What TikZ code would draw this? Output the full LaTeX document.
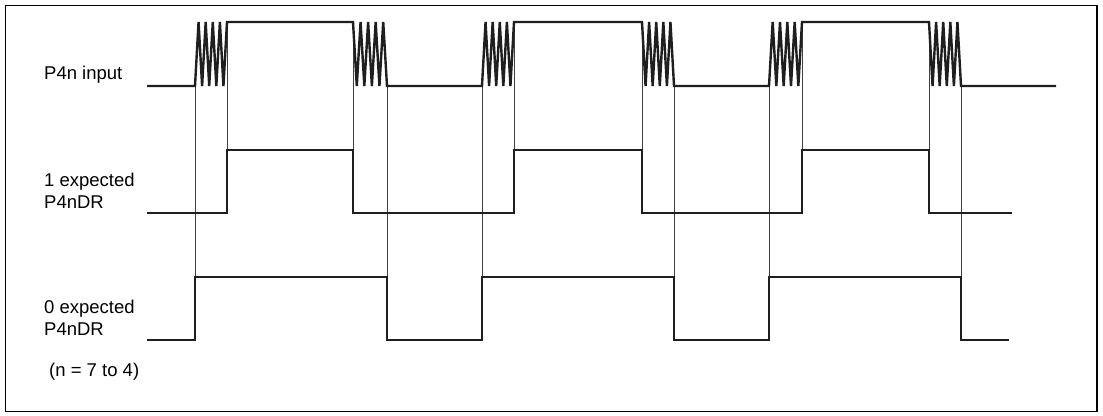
\documentclass[tikz,border=0pt]{standalone}
\usepackage{fontspec}
\setmainfont{Liberation Sans}
\begin{document}
\begin{tikzpicture}[x=1pt,y=-1pt,
  wave/.style={line width=2.4pt,line join=miter,miter limit=2,black!88},
  guide/.style={line width=0.9pt,black!75},
  frame/.style={line width=1.8pt},
  lbl/.style={anchor=west,align=left,inner sep=0pt,font=\fontsize{18.5}{22.5}\selectfont}]
\useasboundingbox (0,0) rectangle (1103,415);
\draw[frame] (5.5,5.5) rectangle (1097,411.5);
% helpers
\newcommand\bup[2]{\foreach \i in {1,...,9}{ -- ({#1+(#2-#1)*\i/9},{86-64*mod(\i,2)}) }}
\newcommand\bdn[2]{\foreach \i in {1,...,9}{ -- ({#1+(#2-#1)*\i/9},{22+64*mod(\i,2)}) }}
% labels
\node[lbl] (Lin) at (44,75) {P4n input};
\node[lbl] (L1) at (44,191) {1 expected\\P4nDR};
\node[lbl] (L0) at (44,318) {0 expected\\P4nDR};
\node[lbl] (Ln) at (49,372) {(n = 7 to 4)};
% guide lines
\foreach \x in {227,353,514,642,802,929}{\draw[guide] (\x,22) -- (\x,150);}
\foreach \x in {195,387,482,674,769,961}{\draw[guide] (\x,86) -- (\x,277);}
% input waveform
\draw[wave] (147,86) -- (195,86) \bup{195}{227} -- (353,22) \bdn{353}{387}
  -- (482,86) \bup{482}{514} -- (642,22) \bdn{642}{674}
  -- (769,86) \bup{769}{802} -- (929,22) \bdn{929}{961} -- (1056,86);
% 1 expected
\draw[wave] (147,213) -- (227,213) -- (227,150) -- (353,150) -- (353,213)
  -- (514,213) -- (514,150) -- (642,150) -- (642,213)
  -- (802,213) -- (802,150) -- (929,150) -- (929,213) -- (1012,213);
% 0 expected
\draw[wave] (147,340) -- (195,340) -- (195,277) -- (387,277) -- (387,340)
  -- (482,340) -- (482,277) -- (674,277) -- (674,340)
  -- (769,340) -- (769,277) -- (961,277) -- (961,340) -- (1009,340);
\end{tikzpicture}
\end{document}
